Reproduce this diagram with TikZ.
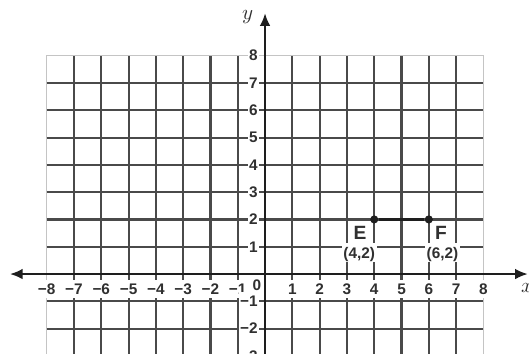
\documentclass[tikz,border=0pt]{standalone}
\usepackage{fontspec}
\newfontfamily\lblfont{Liberation Sans}
\usetikzlibrary{arrows.meta}
\definecolor{gridline}{HTML}{4A4A4A}
\definecolor{gridedge}{HTML}{C4C4C4}
\definecolor{axis}{HTML}{1E1E1E}
\definecolor{lbl}{HTML}{303030}
\tikzset{
  gline/.style={draw=gridline, line width=1.1pt},
  gedge/.style={draw=gridedge, line width=0.5pt},
  axline/.style={draw=axis, line width=0.9pt},
  numlab/.style={text=lbl, fill=white, font=\lblfont\bfseries\fontsize{8}{9}\selectfont,
    inner xsep=0.8pt, inner ysep=1.6pt, text height=6pt, text depth=0.5pt},
  ptlab/.style={text=lbl, fill=white, font=\lblfont\bfseries\fontsize{10}{11}\selectfont,
    inner sep=0.8pt},
  dot/.style={circle, fill=axis, inner sep=1.5pt},
  axlab/.style={text=lbl, font=\itshape\fontsize{11}{12}\selectfont}
}

\begin{document}
\begin{tikzpicture}[x=0.5cm, y=0.5cm]
  \useasboundingbox (-9.71,-2.92) rectangle (9.67,10.04);

  % grid
  \draw[gedge] (-8,-3.2) -- (-8,8) -- (8,8) -- (8,-3.2);
  \foreach \i in {-7,...,-1,1,2,...,7}
    \draw[gline] (\i,-3.2) -- (\i,8);
  \foreach \j in {-3,-2,-1,1,2,...,7}
    \draw[gline] (-8,\j) -- (8,\j);

  % axes
  \coordinate (xl) at (-9.34,0);
  \coordinate (xr) at (9.62,0);
  \coordinate (yb) at (0,-3.2);
  \coordinate (yt) at (0,9.55);
  \draw[axline, {Latex[length=6.5pt,width=5.5pt]}-{Latex[length=6.5pt,width=5.5pt]}] (xl) -- (xr);
  \draw[axline, -{Latex[length=6.5pt,width=5.5pt]}] (yb) -- (yt);
  \node[axlab] (ylab) at (-0.64,9.4) {$y$};
  \node[axlab] (xlab) at (9.6,-0.5) {$x$};

  % numbers on the axes
  \foreach \n in {1,...,8} {
    \node[numlab] (xp\n) at (\n,-0.55) {\n};
    \node[numlab] (xn\n) at (-\n,-0.55) {−\n};
    \node[numlab, anchor=east] (yp\n) at (-0.2,\n) {\n};
  }
  \foreach \n in {1,2,3}
    \node[numlab, anchor=east] (yn\n) at (-0.2,-\n) {−\n};
  \node[numlab, fill=none] (orig) at (-0.3,-0.42) {0};

  % segment EF
  \node[dot] (ptE) at (4,2) {};
  \node[dot] (ptF) at (6,2) {};
  \draw[axis, line width=1.2pt] (ptE) -- (ptF);
  \node[ptlab] (labE) at (3.48,1.5) {E};
  \node[numlab] (coE) at (3.45,0.78) {(4,2)};
  \node[ptlab] (labF) at (6.45,1.5) {F};
  \node[numlab] (coF) at (6.5,0.78) {(6,2)};
\end{tikzpicture}
\end{document}
